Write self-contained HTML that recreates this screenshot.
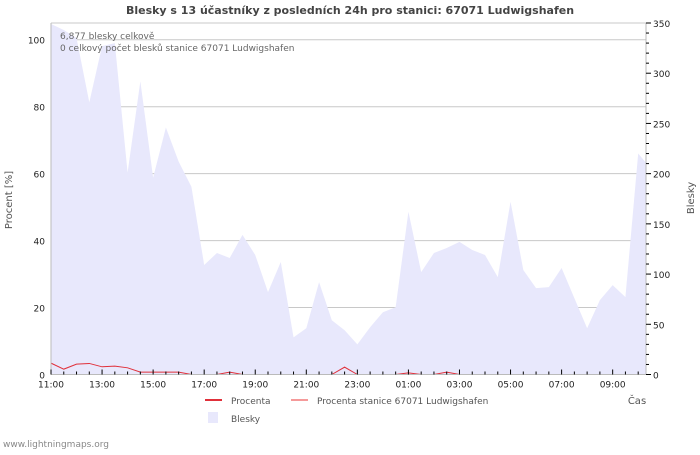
<!DOCTYPE html>
<html><head><meta charset="utf-8"><style>
body{margin:0;background:#fff;width:700px;height:450px;overflow:hidden}
svg{font-family:"DejaVu Sans","Liberation Sans",sans-serif}
</style></head><body>
<svg id="chart" width="700" height="450">
<text x="350" y="14" text-anchor="middle" font-size="11" font-weight="bold" fill="#444">Blesky s 13 účastníky z posledních 24h pro stanici: 67071 Ludwigshafen</text>
<g id="grid"></g><g id="area"></g><g id="lines"></g><g id="axes"></g>
<text x="60" y="39" font-size="9" fill="#666">6,877 blesky celkově</text>
<text x="60" y="51" font-size="9" fill="#666">0 celkový počet blesků stanice 67071 Ludwigshafen</text>
<text transform="translate(12,200) rotate(-90)" text-anchor="middle" font-size="10" fill="#555">Procent   [%]</text>
<text transform="translate(694,198) rotate(-90)" text-anchor="middle" font-size="10" fill="#555">Blesky</text>
<text x="637" y="404" text-anchor="middle" font-size="10" fill="#555">Čas</text>
<g>
<line x1="205" y1="400" x2="222" y2="400" stroke="#e0303a" stroke-width="2"/>
<text x="231" y="404" font-size="9" fill="#555">Procenta</text>
<line x1="291" y1="400" x2="308" y2="400" stroke="#f59a9a" stroke-width="2"/>
<text x="317" y="404" font-size="9" fill="#555">Procenta stanice 67071 Ludwigshafen</text>
<rect x="208" y="412" width="10" height="11" fill="#e8e8fc"/>
<text x="231" y="422" font-size="9" fill="#555">Blesky</text>
</g>
<text x="3" y="447" font-size="9" fill="#888">www.lightningmaps.org</text>
</svg>
<script>
const strikes=[349,343,335,271,327,330,201,292,196,246,212,187,109,121,116,139,119,82,112,37,46,92,54,44,30,47,62,67,162,102,121,126,132,124,119,97,172,104,86,87,106,76,46,74,89,77,220,205];
const percent=[3.4,1.6,3.1,3.3,2.3,2.5,2,0.7,0.7,0.7,0.7,0,null,0,0.7,0,null,null,null,null,null,null,0,2.2,0,null,null,0,0.5,0,0,0.7,0,null,null,null,null,null,null,null,null,null,null,null,null,null,null,null];
const xLabels=["11:00","13:00","15:00","17:00","19:00","21:00","23:00","01:00","03:00","05:00","07:00","09:00"];
const leftTicks=[0,20,40,60,80,100];
const rightTicks=[0,50,100,150,200,250,300,350];
const L=51,R=646,T=23,B=374.5,H=25.53;
const xs=i=>L+i*H/2;
const yl=v=>B-v*(B-T)/105;
const yr=v=>B-v*(B-T)/350;
const NS="http://www.w3.org/2000/svg";
function mk(p,t,a){const e=document.createElementNS(NS,t);for(const k in a)e.setAttribute(k,a[k]);p.appendChild(e);return e;}
const grid=document.getElementById('grid'),area=document.getElementById('area'),lines=document.getElementById('lines'),axes=document.getElementById('axes');
leftTicks.forEach(v=>{if(v>0){const g=mk(grid,'line',{x1:L,x2:R,y1:yl(v),y2:yl(v),stroke:'#c8c8c8'});

}
const t=mk(axes,'text',{x:L-6,y:yl(v)+4,'text-anchor':'end','font-size':9,fill:'#222'});t.textContent=v;

});
mk(grid,'line',{x1:L,x2:R,y1:T,y2:T,stroke:'#c8c8c8'});
let d='M'+L+','+B;
strikes.forEach((v,i)=>{d+=' L'+Math.min(xs(i),R+5)+','+yr(v);});
d+=' L'+Math.min(xs(strikes.length-1),R+5)+','+B+' Z';
const cp=mk(area,'clipPath',{id:'cp'});mk(cp,'rect',{x:L,y:T,width:R-L,height:B-T});
const ap=mk(area,'path',{d:d,fill:'#e8e8fc','clip-path':'url(#cp)'});


let pd='',pen=false;
percent.forEach((v,i)=>{if(v===null){pen=false;return;}pd+=(pen?' L':' M')+xs(i)+','+yl(v);pen=true;});
const pl=mk(lines,'path',{d:pd,fill:'none',stroke:'#e0303a','stroke-width':1});


mk(axes,'line',{x1:L,x2:L,y1:T,y2:B,stroke:'#bbb'});
mk(axes,'line',{x1:R,x2:R,y1:T,y2:B,stroke:'#bbb'});
mk(axes,'line',{x1:L,x2:R,y1:B,y2:B,stroke:'#bbb'});
for(let i=0;i<=46;i++){const x=xs(i);if(x>R)break;mk(axes,'line',{x1:x,x2:x,y1:B,y2:B-(i%4==0?5:3),stroke:'#000'});}
xLabels.forEach((s,i)=>{const t=mk(axes,'text',{x:xs(i*4),y:B+13,'text-anchor':'middle','font-size':9,fill:'#222'});t.textContent=s;

});
for(let v=0;v<=350;v+=10){mk(axes,'line',{x1:R,x2:R+(v%50==0?5:3),y1:yr(v),y2:yr(v),stroke:'#000'});}
rightTicks.forEach(v=>{const t=mk(axes,'text',{x:R+7,y:yr(v)+4,'font-size':9,fill:'#222'});t.textContent=v;

});
</script>
</body></html>
